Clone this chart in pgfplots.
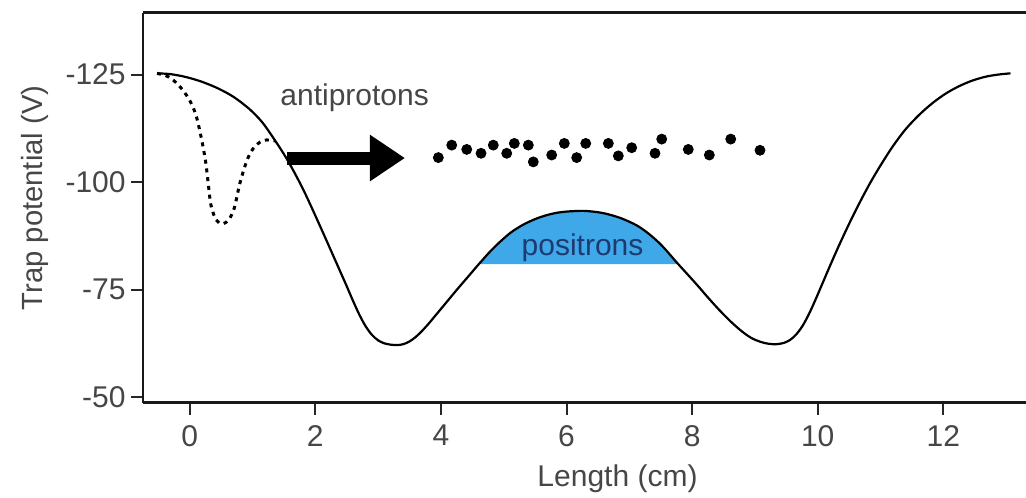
\documentclass[border=0pt]{standalone}
\usepackage{pgfplots}
\pgfplotsset{compat=1.18}
\usepackage{pgfplotstable}
\usepgfplotslibrary{fillbetween}
\usetikzlibrary{arrows.meta}
\usepackage{fontspec}
\setmainfont{Liberation Sans}
\definecolor{posblue}{RGB}{62,168,232}
\definecolor{posnavy}{RGB}{30,58,112}
\definecolor{txtgray}{RGB}{70,70,70}

% solid trap potential
\pgfplotstableread{
x y
-0.52 -125.3
-0.30 -125.1
-0.05 -124.4
0.20 -123.3
0.45 -121.8
0.70 -119.8
0.95 -117.0
1.15 -114.0
1.33 -110.3
1.55 -105.3
1.80 -98.5
2.05 -90.6
2.30 -82.4
2.40 -79.1
2.50 -75.8
2.60 -72.4
2.70 -69.2
2.80 -66.5
2.90 -64.5
3.00 -63.2
3.10 -62.5
3.20 -62.2
3.30 -62.1
3.40 -62.3
3.50 -62.95
3.60 -64.0
3.70 -65.4
3.80 -67.0
3.90 -68.75
4.00 -70.5
4.25 -74.9
4.45 -78.3
4.62 -81.2
4.78 -83.8
4.94 -86.1
5.12 -88.35
5.31 -90.1
5.50 -91.4
5.68 -92.3
5.86 -92.9
6.05 -93.2
6.30 -93.3
6.58 -92.8
6.85 -91.7
7.11 -90.0
7.30 -88.1
7.48 -85.8
7.62 -83.6
7.75 -81.4
8.06 -76.4
8.25 -73.2
8.43 -70.3
8.62 -67.5
8.80 -65.2
8.95 -63.7
9.10 -62.8
9.22 -62.4
9.34 -62.3
9.46 -62.6
9.56 -63.3
9.66 -64.6
9.76 -66.6
9.86 -69.3
9.96 -72.5
10.06 -75.9
10.18 -80.0
10.34 -85.3
10.50 -90.3
10.66 -95.0
10.82 -99.4
10.98 -103.4
11.19 -108.2
11.40 -112.3
11.62 -115.7
11.83 -118.4
12.04 -120.6
12.25 -122.3
12.46 -123.6
12.67 -124.5
12.87 -125.0
13.07 -125.3
}\traptable

% dotted well
\pgfplotstableread{
x y
-0.52 -125.3
-0.34 -124.5
-0.18 -122.6
-0.02 -119.5
0.09 -116.0
0.17 -111.3
0.25 -105.1
0.30 -99.0
0.34 -94.5
0.42 -91.2
0.52 -90.3
0.62 -91.2
0.71 -94.0
0.80 -99.8
0.91 -105.0
1.01 -107.8
1.12 -109.3
1.22 -109.8
1.36 -109.6
}\dottable

% antiprotons
\pgfplotstableread{
x y
3.959 -105.7
4.172 -108.6
4.411 -107.6
4.639 -106.7
4.834 -108.6
5.048 -106.7
5.169 -109.0
5.392 -108.6
5.471 -104.7
5.764 -106.3
5.965 -109.0
6.162 -105.7
6.306 -109.0
6.666 -109.0
6.825 -106.1
7.038 -108.0
7.409 -106.7
7.516 -110.0
7.939 -107.6
8.274 -106.3
8.615 -110.0
9.081 -107.4
}\pbartable

\begin{document}
\fontsize{15}{18}\selectfont
\begin{tikzpicture}[font=\fontsize{15}{18}\selectfont]
\begin{axis}[
  scale only axis, width=441.5pt, height=195pt,
  xmin=-0.744, xmax=13.317, ymin=-139.4, ymax=-48.7,
  y dir=reverse,
  axis x line=box, axis y line=left,
  axis line style={-, line width=1.4pt, black!90},
  xtick={0,2,4,6,8,10,12}, xticklabels={0,2,4,6,8,10,12},
  ytick={-125,-100,-75,-50}, yticklabels={-125,-100,-75,-50},
  xtick pos=left, ytick pos=left,
  tick align=outside, major tick length=6pt,
  tick style={line width=1pt, black!85},
  minor tick num=0,
  ticklabel style={text=txtgray},
  yticklabel style={xshift=2.5pt},
  xlabel={Length (cm)}, ylabel={Trap potential (V)},
  label style={text=txtgray},
  xlabel style={at={(axis description cs:0.5374,-0.2154)}, anchor=base},
  ylabel style={at={(axis description cs:-0.1223,0.525)}, anchor=center, font=\fontsize{14.6}{18}\selectfont},
]
\addplot[draw=none, smooth, name path=trap, forget plot] table[x=x,y=y] {\traptable};
\addplot[draw=none, name path=base, forget plot] coordinates {(4.3,-80.9) (8.1,-80.9)};
\addplot[fill=posblue, draw=none] fill between[of=trap and base, soft clip={domain=4.62:7.76}];
\addplot[black, line width=1.1pt, smooth] table[x=x,y=y] {\traptable};
\addplot[black, line width=1.5pt, smooth, dash pattern=on 2pt off 2.4pt] table[x=x,y=y] {\dottable};
\addplot[only marks, mark=*, mark size=2.5pt, black] table[x=x,y=y] {\pbartable};
\draw[black, line width=6.5pt, -{Triangle[length=17.5pt, width=22pt]}] (axis cs:1.545,-105.6) -- (axis cs:3.428,-105.6);
\node[anchor=base west, inner sep=0pt, text=txtgray] at (axis cs:1.438,-117.9) {antiprotons};
\node[anchor=base, inner sep=0pt, text=posnavy] at (axis cs:6.255,-83.0) {positrons};
\end{axis}
\pgfresetboundingbox
\path (-71.5pt,-47.15pt) rectangle (441.5pt,201.35pt);
\end{tikzpicture}
\end{document}
